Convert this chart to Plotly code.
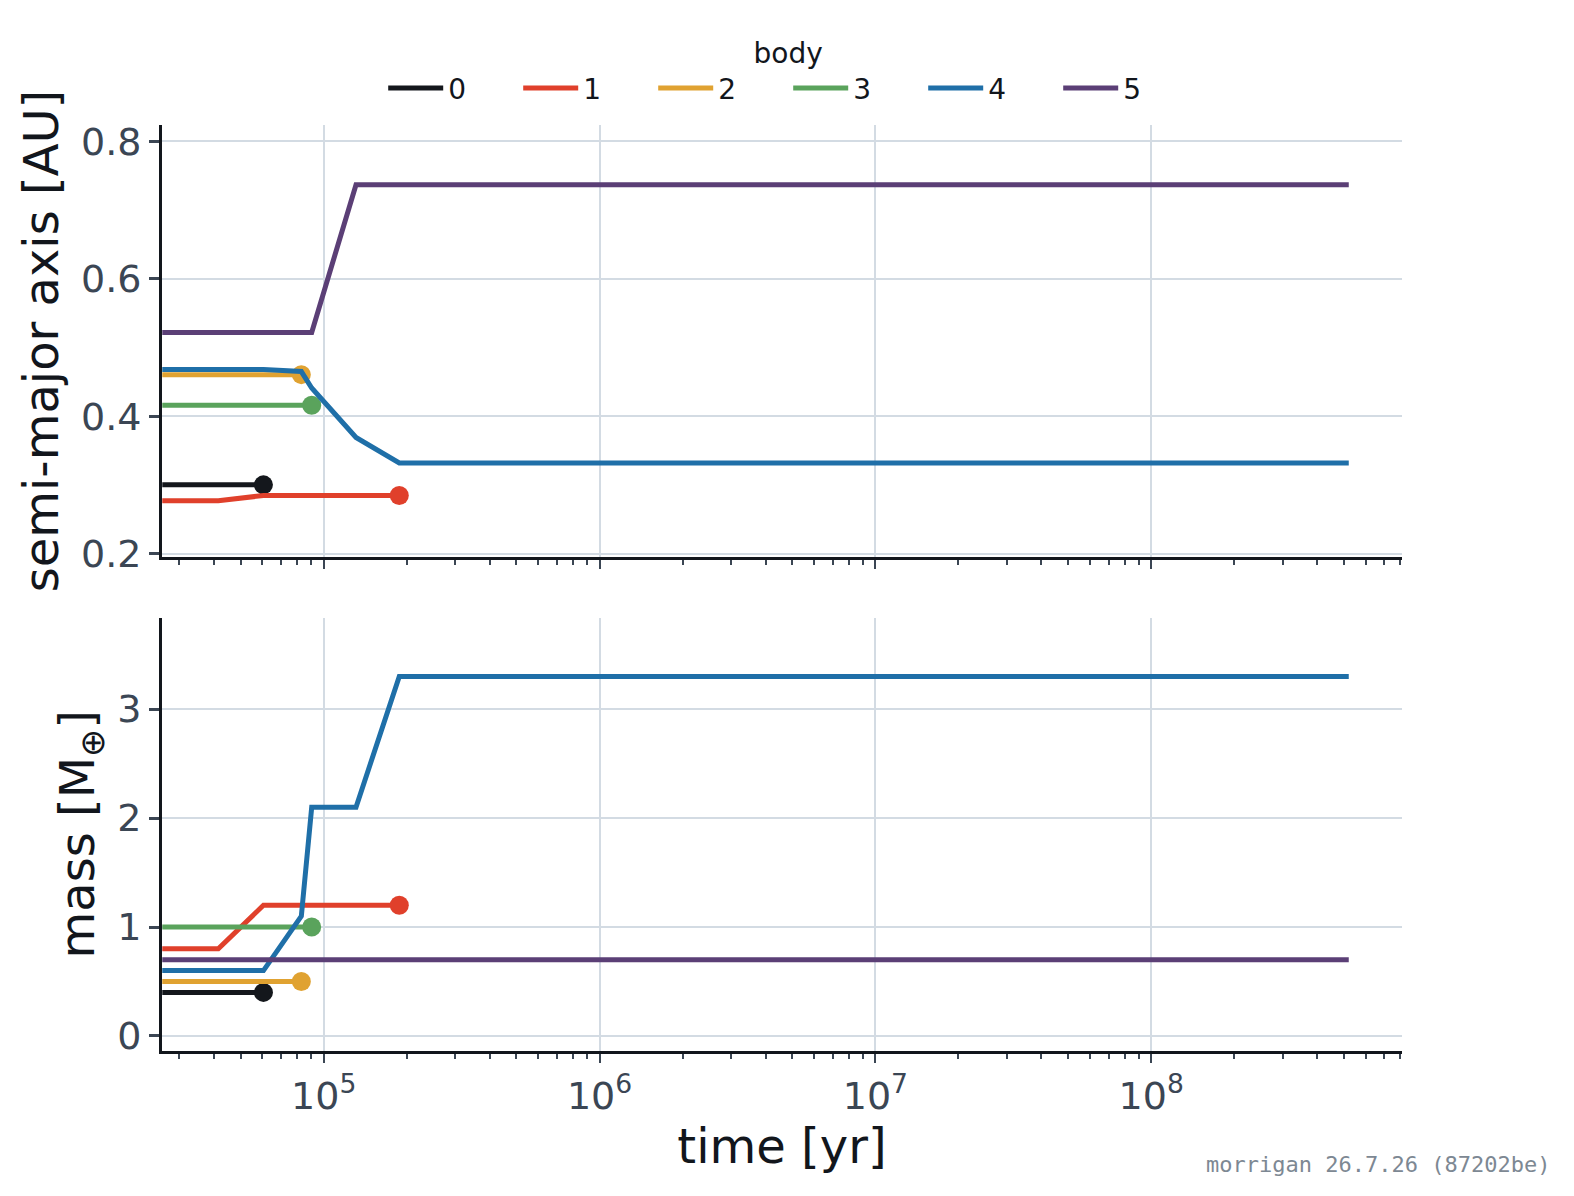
import plotly.graph_objects as go

# ---- data ----
time_yr = [2.6e4, 4.15e4, 6.05e4, 8.3e4, 9.05e4, 1.31e5, 1.88e5, 5.2e8]
bodies = ["0", "1", "2", "3", "4", "5"]
colors = ["#14171c", "#e0402b", "#e0a231", "#5aa35c", "#1f6fa8", "#5b3f76"]
semi_major = {
    "0": [0.300, 0.300, 0.300],
    "1": [0.277, 0.277, 0.2845, 0.2845, 0.2845, 0.2845, 0.2845],
    "2": [0.4605, 0.4605, 0.4605, 0.4605],
    "3": [0.416, 0.416, 0.416, 0.416, 0.416],
    "4": [0.468, 0.468, 0.468, 0.465, 0.441, 0.369, 0.332, 0.332],
    "5": [0.522, 0.522, 0.522, 0.522, 0.522, 0.737, 0.737, 0.737],
}
mass = {
    "0": [0.4, 0.4, 0.4],
    "1": [0.8, 0.8, 1.2, 1.2, 1.2, 1.2, 1.2],
    "2": [0.5, 0.5, 0.5, 0.5],
    "3": [1.0, 1.0, 1.0, 1.0, 1.0],
    "4": [0.6, 0.6, 0.6, 1.1, 2.1, 2.1, 3.3, 3.3],
    "5": [0.7, 0.7, 0.7, 0.7, 0.7, 0.7, 0.7, 0.7],
}
removed = ["0", "1", "2", "3"]
major_exps = [5, 6, 7, 8]
major_vals = [10 ** e for e in major_exps]
major_text = [f"10<sup>{e}</sup>" for e in major_exps]
minor_vals = [m * 10 ** k for k in range(4, 9) for m in range(2, 10)]

INK = "#12161c"
TICK = "#3b4654"
GRID = "#d3dbe3"
FONT = "DejaVu Sans"

fig = go.Figure()
for b, c in zip(bodies, colors):
    for ya, ys, show in (("y", semi_major[b], True), ("y2", mass[b], False)):
        xs = time_yr[: len(ys)]
        xa = "x" if ya == "y" else "x2"
        fig.add_trace(go.Scatter(
            x=xs, y=ys, mode="lines", name=b, legendgroup=b, showlegend=show,
            line=dict(color=c, width=5), xaxis=xa, yaxis=ya, hoverinfo="skip"))
        if b in removed:
            fig.add_trace(go.Scatter(
                x=[xs[-1]], y=[ys[-1]], mode="markers", legendgroup=b, showlegend=False,
                marker=dict(color=c, size=19, line=dict(width=0)),
                xaxis=xa, yaxis=ya, hoverinfo="skip"))

xcommon = dict(
    type="log", range=[4.414, 8.909],
    tickmode="array", tickvals=major_vals, ticktext=major_text,
    showline=True, linecolor=INK, linewidth=3, mirror=False,
    ticks="outside", ticklen=9, tickwidth=2, tickcolor=TICK,
    showgrid=True, gridcolor=GRID, gridwidth=2, zeroline=False,
    tickfont=dict(family=FONT, size=38, color=TICK),
    minor=dict(tickvals=minor_vals, ticks="outside", ticklen=5, tickwidth=2,
               tickcolor=TICK, showgrid=False),
)
ycommon = dict(
    showline=True, linecolor=INK, linewidth=3, mirror=False,
    ticks="outside", ticklen=10, tickwidth=2.5, tickcolor=TICK,
    showgrid=True, gridcolor=GRID, gridwidth=2, zeroline=False,
    tickfont=dict(family=FONT, size=38, color=TICK),
)

fig.update_layout(
    width=1574, height=1196,
    paper_bgcolor="white", plot_bgcolor="white",
    margin=dict(l=162, r=172, t=125, b=145),
    font=dict(family=FONT, color=INK),
    xaxis=dict(**xcommon, anchor="y", showticklabels=False, matches="x2"),
    xaxis2=dict(**xcommon, anchor="y2",
                title=dict(text="time [yr]", standoff=12,
                           font=dict(family=FONT, size=48, color=INK))),
    yaxis=dict(**ycommon, domain=[0.5335, 1.0], range=[0.195, 0.824], dtick=0.2,
               tickformat=".1f", anchor="x",
               title=dict(text="semi-major axis [AU]", standoff=8,
                          font=dict(family=FONT, size=48, color=INK))),
    yaxis2=dict(**ycommon, domain=[0.0, 0.468], range=[-0.138, 3.84], dtick=1,
                anchor="x2",
                title=dict(text="mass [M<sub>⊕</sub>]", standoff=8,
                           font=dict(family=FONT, size=48, color=INK))),
    legend=dict(
        orientation="h", x=0.505, xanchor="center", y=1.106, yanchor="top",
        font=dict(family=FONT, size=28, color=INK),
        title=dict(text="body", side="top center", font=dict(family=FONT, size=28, color=INK)),
        itemwidth=55, entrywidth=65, bgcolor="rgba(0,0,0,0)",
    ),
    showlegend=True,
    annotations=[dict(
        text="morrigan 26.7.26 (87202be)", xref="paper", yref="paper",
        x=1.121, y=-0.123, xanchor="right", yanchor="middle", showarrow=False,
        font=dict(family="DejaVu Sans Mono", size=22, color="#7d8893"))],
)

fig.write_html("out.html")
